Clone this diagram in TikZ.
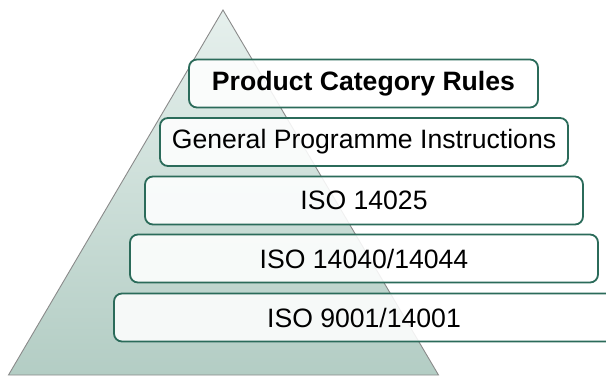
\documentclass[tikz,border=0pt]{standalone}
\usepackage{fontspec}
\setmainfont{Liberation Sans}
\definecolor{boxline}{HTML}{2B6B5A}
\definecolor{tritop}{HTML}{E6F0ED}
\definecolor{tribot}{HTML}{B3CDC4}
\definecolor{triline}{HTML}{8A8A8A}
\begin{document}
\begin{tikzpicture}[x=1pt,y=-1pt,
  layer/.style={draw=boxline, line width=1.8pt, rounded corners=8pt,
    fill=white, fill opacity=0.88, text opacity=1, inner sep=0pt,
    minimum height=48pt, font=\fontsize{26.6}{30}\selectfont, anchor=center}]
\useasboundingbox (0,0) rectangle (606,376);
\begin{scope}
\clip (0,0) rectangle (606,376);
\coordinate (apex) at (223,10);
\coordinate (bl) at (8.5,375);
\coordinate (br) at (438.5,375);
\shade[top color=tritop, bottom color=tribot] (apex) -- (br) -- (bl) -- cycle;
\draw[triline, line width=0.9pt, line join=miter] (apex) -- (br) -- (bl) -- cycle;
\node[layer, minimum width=349pt] (pcr) at (363.5,83.5) {\textbf{Product Category Rules}};
\node[layer, minimum width=408pt] (gpi) at (364,142) {General Programme Instructions};
\node[layer, minimum width=438pt] (iso25) at (364,200.5) {ISO 14025};
\node[layer, minimum width=468pt] (iso40) at (364,258.5) {ISO 14040/14044};
\node[layer, minimum width=500pt] (iso90) at (364,317.5) {ISO 9001/14001};
\end{scope}
\end{tikzpicture}
\end{document}
